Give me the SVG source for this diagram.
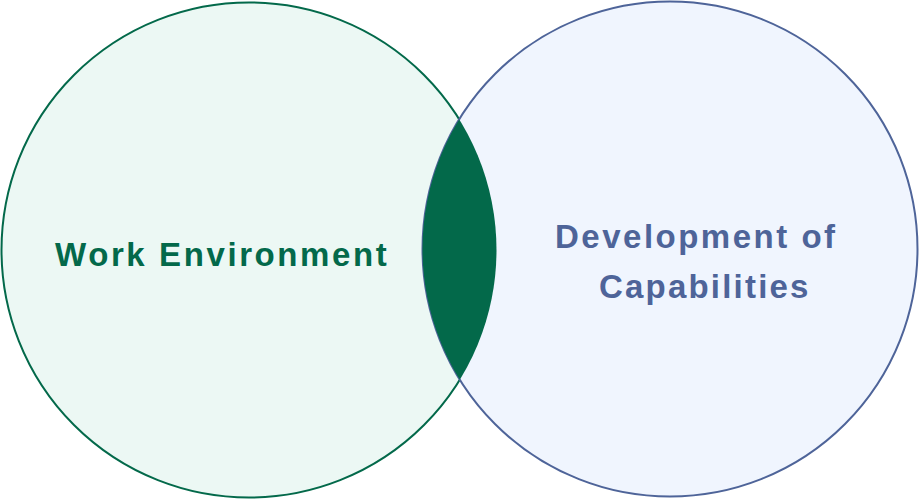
<svg xmlns="http://www.w3.org/2000/svg" width="920" height="500" viewBox="0 0 920 500">
  <style>
    .label { font-family: "Liberation Sans", Arial, sans-serif; font-weight: bold; font-size: 33px; }
    .work { fill: #03694a; letter-spacing: 2.6px; }
    .dev { fill: #4e6499; }
  </style>
  <defs>
    <clipPath id="clip-left">
      <circle cx="249" cy="250" r="247.5"/>
    </clipPath>
  </defs>
  <rect width="920" height="500" fill="#ffffff"/>
  <g id="circle-work">
    <circle cx="249" cy="250" r="247.5" fill="#ecf8f4" stroke="#03694a" stroke-width="2"/>
  </g>
  <g id="circle-dev">
    <circle cx="670" cy="249" r="247.5" fill="#f0f5fe" stroke="#4e6499" stroke-width="2"/>
  </g>
  <g id="overlap">
    <circle cx="670" cy="249" r="247.5" fill="#03694a" clip-path="url(#clip-left)"/>
  </g>
  <g id="labels">
    <text class="label work" x="55" y="266">Work Environment</text>
    <text class="label dev" x="555" y="248" letter-spacing="2.5">Development of</text>
    <text class="label dev" x="599" y="298" letter-spacing="2.2">Capabilities</text>
  </g>
</svg>
